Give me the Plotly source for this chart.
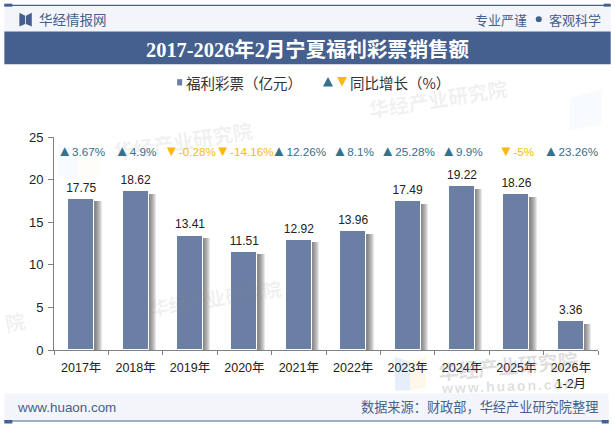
import plotly.graph_objects as go

categories = ["2017年", "2018年", "2019年", "2020年", "2021年", "2022年", "2023年", "2024年", "2025年", "2026年<br>1-2月"]
sales = [17.75, 18.62, 13.41, 11.51, 12.92, 13.96, 17.49, 19.22, 18.26, 3.36]
growth = [3.67, 4.9, -0.28, -14.16, 12.26, 8.1, 25.28, 9.9, -5, 23.26]
y_ticks = [0, 5, 10, 15, 20, 25]

W, H = 615, 427
L, R, T, B = 53.7, 598.3, 136.7, 350.3
SANS = "Liberation Sans, Noto Sans CJK SC, sans-serif"
CJK = "Noto Sans CJK SC, sans-serif"
SERIF = "Liberation Serif, Noto Sans CJK SC, serif"
NAVY = "#45608f"
PALE = "#f3f5fa"
BAR = "#6b7ea3"
UP = "#34708f"
DOWN = "#fbb80f"
STAMP = "rgba(140,140,140,0.13)"
STAMP_STRONG = "rgba(130,130,130,0.26)"

fig = go.Figure()

# soft drop shadow to the right of each column, built from stacked translucent bars
band_px = (R - L) / len(categories)
bar_w = 26 / band_px
for extra_px in [7.5, 6.5, 5.5, 4.5, 3.5, 2.5, 1.5]:
    fig.add_trace(go.Bar(
        x=categories, y=[v - 0.3 for v in sales],
        width=bar_w + extra_px / band_px, offset=-bar_w / 2,
        marker=dict(color="rgba(70,70,70,0.13)", line=dict(width=0)),
        hoverinfo="skip", showlegend=False,
    ))

fig.add_trace(go.Bar(
    x=categories, y=sales, width=bar_w, offset=-bar_w / 2,
    marker=dict(color=BAR, line=dict(color="white", width=1)),
    showlegend=False,
))

# value captions just above the columns
fig.add_trace(go.Scatter(
    x=categories, y=[v + 0.5 for v in sales], mode="text", text=[f"{v:.2f}" for v in sales],
    textposition="top center", textfont=dict(family=SANS, size=12, color="#222222"),
    showlegend=False, cliponaxis=False,
))

# year-on-year row above the columns
labels = []
for g in growth:
    arrow, col = ("▲", UP) if g >= 0 else ("▼", DOWN)
    labels.append(f'<span style="color:{col};font-size:15px">{arrow}</span><span style="color:{col}">{g:g}%</span>')
fig.add_trace(go.Scatter(
    x=categories, y=[23.1] * len(categories), mode="text", text=labels,
    textposition="middle center", textfont=dict(family=SANS, size=11.7),
    showlegend=False, cliponaxis=False,
))


# page pixels to the plot-area fractions used by xref/yref "paper"
def px(x):
    return (x - L) / (R - L)


def py(y):
    return (B - y) / (B - T)


def rect(x0, y0, x1, y1, color):
    return dict(type="rect", xref="paper", yref="paper", x0=px(x0), x1=px(x1), y0=py(y0), y1=py(y1),
                fillcolor=color, line=dict(width=0), layer="below")


def poly(points, color, layer="above"):
    d = "M" + " L".join(f"{px(a):.4f},{py(b):.4f}" for a, b in points) + " Z"
    return dict(type="path", xref="paper", yref="paper", path=d, fillcolor=color, line=dict(width=0), layer=layer)


def note(x, y, text, size, color, family=CJK, anchor="center", angle=0):
    return dict(xref="paper", yref="paper", x=px(x), y=py(y), text=text, showarrow=False,
                xanchor=anchor, yanchor="middle", textangle=angle,
                font=dict(family=family, size=size, color=color))


shapes = [
    # header strip, title band and footer strip
    rect(4, 5, 611, 31, PALE),
    rect(4, 31, 611, 63.7, NAVY),
    rect(4, 394, 609, 421, PALE),
    rect(4, 4.2, 611, 5.4, NAVY),
    rect(4, 3, 12, 6, NAVY),
    rect(604, 3, 611, 6, NAVY),
    rect(4, 421, 609, 422, NAVY),
    rect(4, 420.5, 12, 424, NAVY),
    rect(602, 420.5, 609, 424, NAVY),
    # logo mark
    poly([(19, 12), (24.8, 15), (24.8, 23.5), (19, 26)], NAVY),
    poly([(31.5, 12), (25.6, 15), (25.6, 23.5), (31.5, 26)], NAVY),
    # separator dot in the slogan
    dict(type="circle", xref="paper", yref="paper", x0=px(536), x1=px(542), y0=py(15.5), y1=py(21.5),
         fillcolor=NAVY, line=dict(width=0)),
    # legend swatches
    rect(177, 78.7, 182, 85, BAR),
    poly([(323, 86), (333, 86), (328, 76.5)], UP),
    poly([(337, 76.5), (347, 76.5), (342, 86)], DOWN),
    # faint logo squares of the background stamps
    poly([(395, 357), (410, 362), (410, 391), (395, 391)], "rgba(180,205,240,0.35)", "below"),
    poly([(410, 362), (426, 357), (426, 388), (410, 391)], "rgba(250,235,190,0.35)", "below"),
    poly([(58, 143), (78, 150), (78, 180), (58, 176)], "rgba(200,220,245,0.12)", "below"),
    poly([(78, 150), (100, 143), (100, 176), (78, 180)], "rgba(250,240,205,0.12)", "below"),
    poly([(570, 98), (602, 88), (602, 125), (570, 130)], "rgba(200,220,245,0.12)", "below"),
]

annotations = [
    note(37, 18.5, "华经情报网", 13.5, NAVY, anchor="left"),
    note(501, 18.5, "专业严谨", 13, NAVY),
    note(575, 18.5, "客观科学", 13, NAVY),
    note(307.7, 49.3, "<b>2017-2026年2月宁夏福利彩票销售额</b>", 20.4, "white", family=SERIF),
    note(184, 82.5, "福利彩票（亿元）", 14.5, "#333333", anchor="left"),
    note(348, 82.5, "同比增长（%）", 14.5, "#333333", anchor="left"),
    note(14.5, 407.5, "www.huaon.com", 13.4, NAVY, family=SANS, anchor="left"),
    note(600, 407.3, "数据来源：财政部，华经产业研究院整理", 13.2, NAVY, anchor="right"),
    # background stamps
    note(183, 140, "<b>华经产业研究院</b>", 20, STAMP, angle=-9),
    note(438, 98, "<b>华经产业研究院</b>", 20, STAMP, angle=-9),
    note(215, 298, "<b>华经产业研究院</b>", 19, STAMP, angle=-9),
    note(15, 322, "<b>院</b>", 20, STAMP, angle=-9),
    note(508, 366, "<b>华经产业研究院</b>", 20, STAMP_STRONG, angle=-5),
    note(510, 386, '<b><span style="letter-spacing:2px">www.huaon.com</span></b>', 14, STAMP_STRONG, family=SANS, angle=-2),
]

fig.update_layout(
    width=W, height=H, autosize=False,
    margin=dict(l=L, r=W - R, t=T, b=H - B),
    paper_bgcolor="white", plot_bgcolor="rgba(0,0,0,0)",
    barmode="overlay", bargap=0, showlegend=False,
    shapes=shapes, annotations=annotations,
    xaxis=dict(type="category", categoryorder="array", categoryarray=categories,
               tickson="boundaries", ticks="outside", ticklen=4, tickcolor="#808080", tickwidth=1,
               ticklabelstandoff=6,
               showline=True, linecolor="#808080", linewidth=1, showgrid=False, zeroline=False,
               tickfont=dict(family=SANS, size=12.5, color="#222222"), tickangle=0, automargin=False),
    yaxis=dict(range=[0, 25], tickvals=y_ticks, ticks="outside", ticklen=5, tickcolor="#808080", tickwidth=1,
               ticklabelstandoff=2,
               showline=True, linecolor="#808080", linewidth=1, showgrid=False, zeroline=False,
               tickfont=dict(family=SANS, size=13, color="#222222"), automargin=False),
)

fig.write_html("out.html", config={"displayModeBar": False})
